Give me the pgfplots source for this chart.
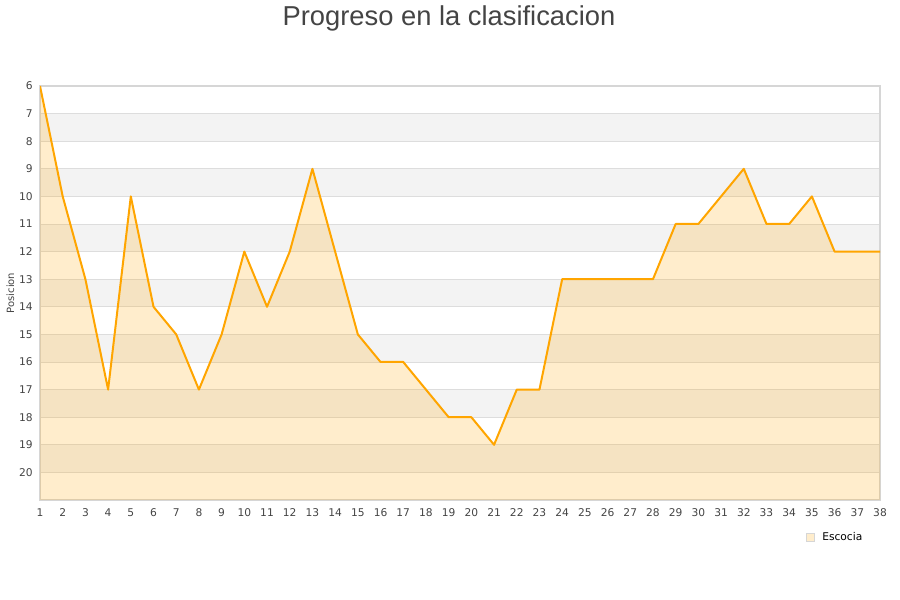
\documentclass[border=0pt]{standalone}
\usepackage{pgfplots}
\pgfplotsset{compat=1.18}
\usepackage{pgfplotstable}
\usepgfplotslibrary{fillbetween}
\usepackage{fontspec}
\setmainfont{DejaVu Sans}
\newfontfamily\titlefont{Liberation Sans}

\definecolor{lineor}{HTML}{FFA500}
\definecolor{bandgray}{HTML}{F3F3F3}
\definecolor{gridgray}{HTML}{DDDDDD}
\definecolor{boxgray}{HTML}{D6D6D6}
\definecolor{txtgray}{HTML}{444444}

\pgfplotstableread{
jornada pos
1 6
2 10
3 13
4 17
5 10
6 14
7 15
8 17
9 15
10 12
11 14
12 12
13 9
14 12
15 15
16 16
17 16
18 17
19 18
20 18
21 19
22 17
23 17
24 13
25 13
26 13
27 13
28 13
29 11
30 11
31 10
32 9
33 11
34 11
35 10
36 12
37 12
38 12
}\escocia

\begin{document}
\begin{tikzpicture}[x=0.75pt,y=0.75pt]
\path (0,0) rectangle (900,600);
\node[font=\titlefont\fontsize{20.5}{24}\selectfont, text=txtgray, anchor=base] at (449,574) {Progreso en la clasificacion};
\begin{axis}[
    set layers,
    at={(30pt,75pt)}, anchor=south west,
    scale only axis,
    width=630pt, height=310.5pt,
    xmin=1, xmax=38,
    ymin=6, ymax=21,
    y dir=reverse,
    xtick={1,...,38},
    ytick={6,...,20},
    ymajorgrids=true,
    grid style={gridgray, line width=0.6pt},
    axis line style={boxgray, line width=0.8pt},
    tick style={draw=none},
    ticklabel style={font=\fontsize{8}{10}\selectfont, text=txtgray},
    /pgf/number format/assume math mode=true,
    ylabel={Posicion},
    ylabel style={font=\fontsize{7.5}{9}\selectfont, text=txtgray, inner sep=0pt},
    xtick pos=bottom, ytick pos=left,
    x tick label style={yshift=-3pt},
    y tick label style={xshift=-2pt},
]
% grey bands behind the grid
\begin{pgfonlayer}{axis background}
\pgfplotsinvokeforeach{7,9,11,13,15,17,19}{
  \fill[bandgray] (axis cs:1,#1) rectangle (axis cs:38,#1+1);
}
\end{pgfonlayer}
\addplot[name path=line, draw=none, forget plot] table[x=jornada, y=pos] {\escocia};
\addplot[name path=base, draw=none, forget plot] coordinates {(1,21) (38,21)};
\addplot[lineor, fill opacity=0.2, forget plot] fill between[of=line and base];
\addplot[lineor, line width=1.5pt, line join=round] table[x=jornada, y=pos] {\escocia};
\end{axis}
% legend
\draw[boxgray, fill=lineor!20] (806,59) rectangle (814,67);
\node[anchor=west, font=\fontsize{8}{10}\selectfont, text=black, inner sep=0pt] at (822,63) {Escocia};
\end{tikzpicture}
\end{document}
